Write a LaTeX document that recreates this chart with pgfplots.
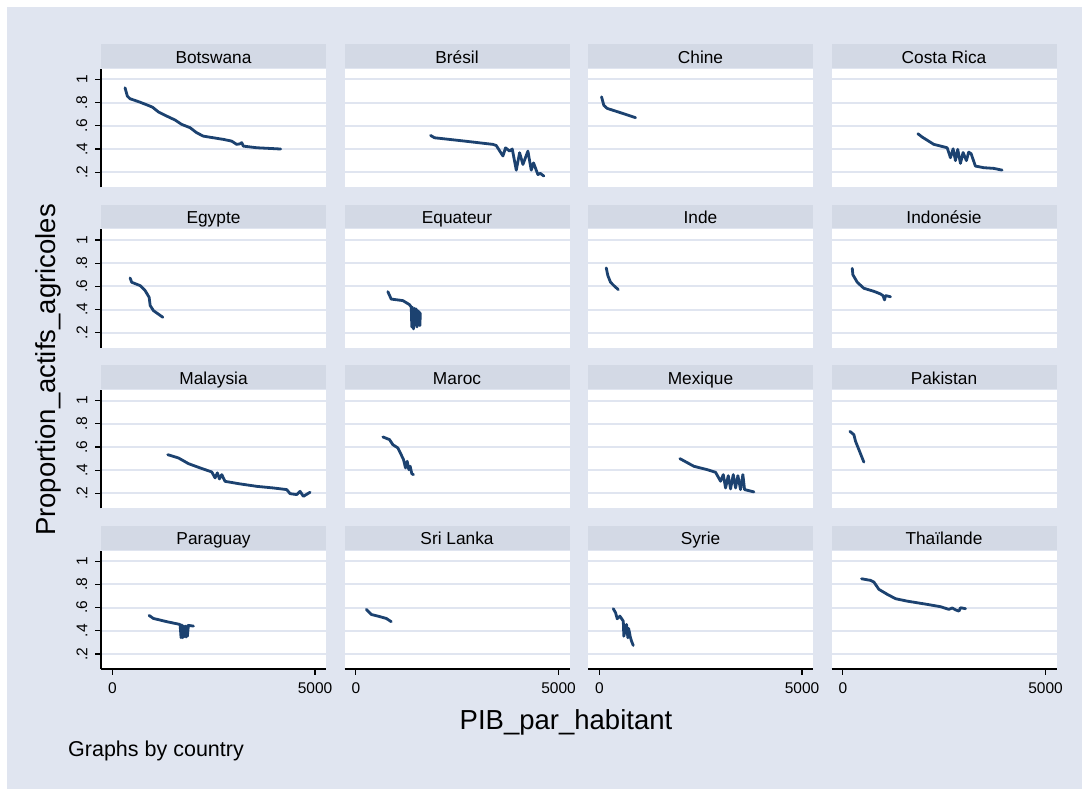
\documentclass[border=0pt]{standalone}
\usepackage{fontspec}
\setmainfont{Liberation Sans}
\usepackage{pgfplots}
\pgfplotsset{compat=1.18}

\definecolor{bgc}{RGB}{224,229,240}
\definecolor{hdr}{RGB}{211,217,229}
\definecolor{stblue}{RGB}{28,66,112}

\pgfplotsset{
  panel/.style={
    anchor=south west, scale only axis,
    width=225pt, height=118.3pt,
    xmin=-280, xmax=5270, ymin=0.07, ymax=1.09,
    axis background/.style={fill=white},
    axis line style={draw=none},
    ytick={0.2,0.4,0.6,0.8,1}, yticklabels={,,,,},
    ytick style={draw=none},
    xtick=\empty,
    ymajorgrids, major grid style={draw=bgc, line width=2pt},
    tick align=outside, major tick length=6pt,
    xtick pos=bottom, ytick pos=left,
    title style={at={(0.5,1)}, anchor=south, yshift=-5pt, fill=hdr,
      inner sep=0pt, outer sep=0pt, minimum width=225pt,
      minimum height=23.7pt, text height=15.5pt, text depth=1.2pt,
      font=\fontsize{17.3}{20}\selectfont},
    every axis plot post/.append style={stblue, line width=2.8pt,
      line join=round, line cap=round, mark=none},
  },
  leftcol/.style={
    ytick style={draw=black, line width=1.2pt},
    yticklabels={.2,.4,.6,.8,1},
    yticklabel style={rotate=90, anchor=south, inner sep=0pt,
      font=\fontsize{15.5}{18}\selectfont},
    yticklabel shift=7.5pt,
    after end axis/.append code={
      \draw[black, line width=1.3pt] (rel axis cs:0,0) -- (rel axis cs:0,1);},
  },
  bottomrow/.style={
    xtick={0,5000}, xticklabels={0,5000},
    xtick style={draw=black, line width=1.2pt},
    xticklabel style={anchor=north, inner sep=0pt,
      font=\fontsize{15.5}{18}\selectfont},
    xticklabel shift=7.5pt,
    after end axis/.append code={
      \draw[black, line width=1.3pt] (rel axis cs:0,0) -- (rel axis cs:1,0);},
  },
}

\begin{document}
\begin{tikzpicture}
\fill[white] (0,0) rectangle (1082pt,789pt);
\fill[bgc] (7pt,0) rectangle (1082pt,782pt);

% row 1
\begin{axis}[panel, leftcol, at={(101pt,601.7pt)}, title={Botswana}]
\addplot coordinates {(313,0.928)(370,0.856)(434,0.834)(681,0.804)(928,0.77)(993,0.76)(1135,0.72)(1341,0.684)(1547,0.65)(1711,0.612)(1917,0.584)(2081,0.54)(2245,0.511)(2492,0.497)(2739,0.483)(2944,0.468)(3067,0.44)(3150,0.445)(3190,0.455)(3231,0.425)(3560,0.411)(4151,0.40)};
\end{axis}
\begin{axis}[panel, at={(344.5pt,601.7pt)}, title={Brésil}]
\addplot coordinates {(1843,0.517)(1941,0.497)(2640,0.47)(3380,0.44)(3463,0.43)(3627,0.34)(3693,0.41)(3792,0.382)(3858,0.40)(3957,0.218)(4039,0.368)(4121,0.267)(4244,0.382)(4326,0.218)(4383,0.28)(4490,0.18)(4549,0.19)(4638,0.167)};
\end{axis}
\begin{axis}[panel, at={(588pt,601.7pt)}, title={Chine}]
\addplot coordinates {(54,0.85)(111,0.776)(194,0.75)(523,0.713)(893,0.67)};
\end{axis}
\begin{axis}[panel, at={(831.5pt,601.7pt)}, title={Costa Rica}]
\addplot coordinates {(1850,0.532)(1957,0.503)(2244,0.44)(2573,0.411)(2654,0.325)(2720,0.402)(2777,0.30)(2834,0.397)(2901,0.276)(2966,0.37)(3047,0.30)(3104,0.373)(3163,0.36)(3269,0.253)(3474,0.239)(3721,0.233)(3927,0.218)};
\end{axis}

% row 2
\begin{axis}[panel, leftcol, at={(101pt,441.2pt)}, title={Egypte}]
\addplot coordinates {(437,0.672)(478,0.635)(686,0.606)(809,0.563)(908,0.505)(933,0.434)(1015,0.39)(1246,0.333)};
\end{axis}
\begin{axis}[panel, at={(344.5pt,441.2pt)}, title={Equateur}]
\addplot coordinates {(789,0.554)(872,0.49)(1159,0.477)(1323,0.442)(1367,0.42)(1380,0.25)(1392,0.42)(1423,0.233)(1450,0.41)(1472,0.27)(1488,0.405)(1510,0.25)(1530,0.39)(1547,0.276)(1565,0.38)(1580,0.262)(1590,0.37)};
\end{axis}
\begin{axis}[panel, at={(588pt,441.2pt)}, title={Inde}]
\addplot coordinates {(170,0.759)(210,0.692)(276,0.635)(358,0.606)(466,0.572)};
\end{axis}
\begin{axis}[panel, at={(831.5pt,441.2pt)}, title={Indonésie}]
\addplot coordinates {(232,0.755)(247,0.70)(355,0.635)(518,0.583)(765,0.557)(930,0.534)(990,0.52)(1028,0.483)(1053,0.52)(1176,0.51)};
\end{axis}

% row 3
\begin{axis}[panel, leftcol, at={(101pt,280.5pt)}, title={Malaysia}]
\addplot coordinates {(1367,0.534)(1628,0.506)(1711,0.49)(1875,0.457)(2163,0.42)(2452,0.385)(2533,0.334)(2590,0.377)(2640,0.325)(2699,0.362)(2780,0.304)(3150,0.282)(3561,0.261)(3972,0.247)(4301,0.233)(4383,0.198)(4547,0.19)(4630,0.218)(4712,0.175)(4877,0.21)};
\end{axis}
\begin{axis}[panel, at={(344.5pt,280.5pt)}, title={Maroc}]
\addplot coordinates {(666,0.687)(830,0.664)(913,0.62)(1036,0.592)(1118,0.534)(1176,0.491)(1225,0.42)(1267,0.477)(1307,0.405)(1340,0.434)(1380,0.37)(1422,0.362)};
\end{axis}
\begin{axis}[panel, at={(588pt,280.5pt)}, title={Mexique}]
\addplot coordinates {(1986,0.50)(2331,0.434)(2660,0.405)(2867,0.382)(2990,0.305)(3057,0.362)(3113,0.247)(3180,0.353)(3236,0.239)(3303,0.362)(3360,0.247)(3417,0.353)(3483,0.233)(3540,0.362)(3582,0.233)(3812,0.213)};
\end{axis}
\begin{axis}[panel, at={(831.5pt,280.5pt)}, title={Pakistan}]
\addplot coordinates {(173,0.735)(271,0.707)(313,0.649)(395,0.578)(461,0.52)(518,0.47)};
\end{axis}

% row 4
\begin{axis}[panel, leftcol, bottomrow, at={(101pt,120pt)}, title={Paraguay}]
\addplot coordinates {(905,0.532)(1011,0.506)(1342,0.478)(1670,0.454)(1695,0.34)(1715,0.45)(1737,0.34)(1757,0.44)(1777,0.35)(1800,0.44)(1820,0.345)(1840,0.44)(1851,0.353)(1876,0.446)(2000,0.44)};
\end{axis}
\begin{axis}[panel, bottomrow, at={(344.5pt,120pt)}, title={Sri Lanka}]
\addplot coordinates {(257,0.584)(380,0.54)(543,0.526)(750,0.506)(873,0.478)};
\end{axis}
\begin{axis}[panel, bottomrow, at={(588pt,120pt)}, title={Syrie}]
\addplot coordinates {(343,0.59)(400,0.555)(441,0.503)(506,0.526)(590,0.483)(604,0.353)(671,0.454)(703,0.339)(720,0.42)(745,0.382)(760,0.35)(794,0.31)(836,0.273)};
\end{axis}
\begin{axis}[panel, bottomrow, at={(831.5pt,120pt)}, title={Thaïlande}]
\addplot coordinates {(461,0.848)(683,0.834)(765,0.82)(888,0.757)(1094,0.714)(1300,0.676)(1588,0.655)(2081,0.627)(2410,0.607)(2615,0.584)(2698,0.596)(2779,0.58)(2862,0.569)(2903,0.598)(3026,0.59)};
\end{axis}

% shared labels
\node[rotate=90, anchor=base, font=\fontsize{27.5}{30}\selectfont] at (55.7pt,419pt) {Proportion\_actifs\_agricoles};
\node[anchor=base, font=\fontsize{27.5}{30}\selectfont] at (566pt,59.7pt) {PIB\_par\_habitant};
\node[anchor=base west, inner sep=0pt, font=\fontsize{21.5}{24}\selectfont] at (68pt,32.3pt) {Graphs by country};
\end{tikzpicture}
\end{document}
